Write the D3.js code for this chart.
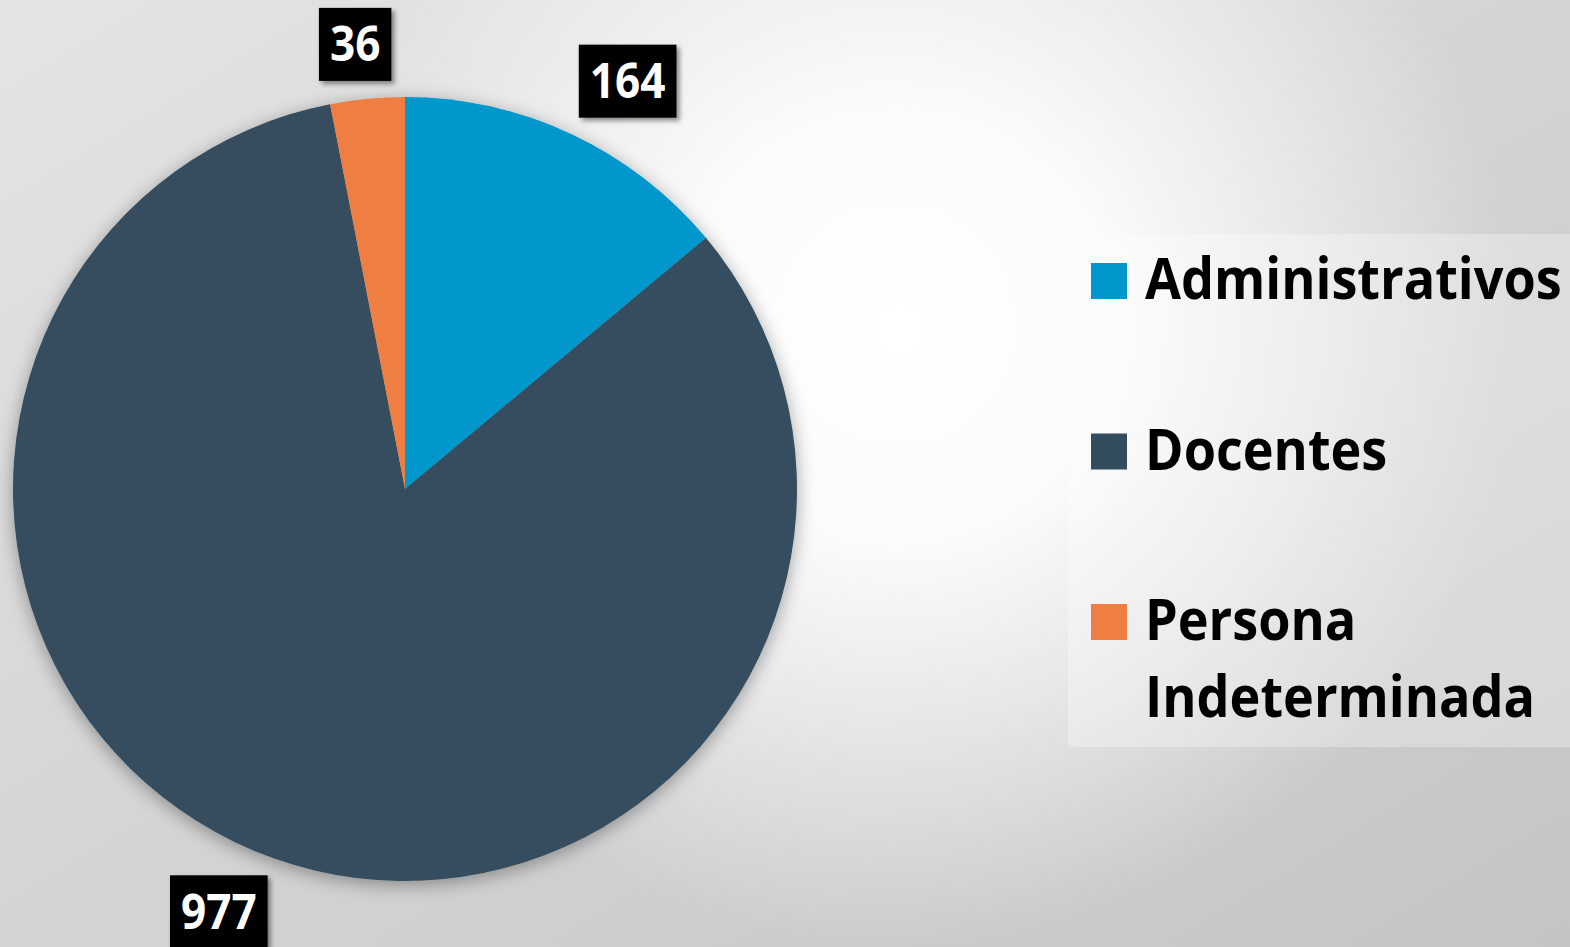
<!DOCTYPE html>
<html>
<head>
<meta charset="utf-8">
<script src="https://cdn.jsdelivr.net/npm/d3@7"></script>
<style>
  html, body { margin: 0; padding: 0; overflow: hidden; }
  svg { display: block; font-family: "Open Sans", "Noto Sans", sans-serif; }
</style>
</head>
<body>
<div id="chart"></div>
<script>
// data
var categories = ["Administrativos", "Docentes", "Persona Indeterminada"];
var values = [164, 977, 36];
var colors = ["#0097cd", "#344d5e", "#ef7e42"];

var width = 1570, height = 947;
var radius = 392, cx = 405, cy = 489;
var squeeze = 0.9; // stand-in font is wider than the original one

var svg = d3.select("#chart").append("svg")
  .attr("width", width).attr("height", height);

var defs = svg.append("defs");

var lin = defs.append("linearGradient").attr("id", "bgLin")
  .attr("x1", 0).attr("y1", 0).attr("x2", 1).attr("y2", 1);
lin.append("stop").attr("offset", 0).attr("stop-color", "#e4e4e4");
lin.append("stop").attr("offset", 1).attr("stop-color", "#c4c4c4");

var glow = defs.append("radialGradient").attr("id", "bgGlow")
  .attr("gradientUnits", "userSpaceOnUse")
  .attr("cx", 900).attr("cy", 330).attr("r", 620);
glow.append("stop").attr("offset", 0).attr("stop-color", "#fff").attr("stop-opacity", 1);
glow.append("stop").attr("offset", 0.35).attr("stop-color", "#fff").attr("stop-opacity", 0.9);
glow.append("stop").attr("offset", 1).attr("stop-color", "#fff").attr("stop-opacity", 0);

var pieShadow = defs.append("filter").attr("id", "pieShadow")
  .attr("x", "-20%").attr("y", "-20%").attr("width", "140%").attr("height", "140%");
pieShadow.append("feDropShadow").attr("dx", 0).attr("dy", 4)
  .attr("stdDeviation", 9).attr("flood-color", "#000").attr("flood-opacity", 0.35);

var boxShadow = defs.append("filter").attr("id", "boxShadow")
  .attr("x", "-20%").attr("y", "-20%").attr("width", "150%").attr("height", "150%");
boxShadow.append("feDropShadow").attr("dx", 3).attr("dy", 3)
  .attr("stdDeviation", 2.5).attr("flood-color", "#000").attr("flood-opacity", 0.45);

svg.append("rect").attr("width", width).attr("height", height).attr("fill", "url(#bgLin)");
svg.append("rect").attr("width", width).attr("height", height).attr("fill", "url(#bgGlow)");

// pie
var pie = d3.pie().sort(null).value(function (d) { return d; });
var arc = d3.arc().innerRadius(0).outerRadius(radius);
var arcs = pie(values);

var g = svg.append("g").attr("transform", "translate(" + cx + "," + cy + ")");
g.append("g").attr("filter", "url(#pieShadow)")
  .selectAll("path")
  .data(arcs)
  .enter()
    .append("path")
    .attr("d", arc)
    .attr("fill", function (d, i) { return colors[i]; });

// data labels, outside end
var clamp = function (v) { return Math.max(-1, Math.min(1, v)); };
var labelGap = 18, boxH = 73, padX = 11;

arcs.forEach(function (d) {
  var a = (d.startAngle + d.endAngle) / 2;
  var sx = Math.sin(a), sy = -Math.cos(a);
  var px = sx * (radius + labelGap), py = sy * (radius + labelGap);

  var lg = g.append("g");
  var rect = lg.append("rect").attr("fill", "#000").attr("filter", "url(#boxShadow)");
  var tg = lg.append("g");
  var t = tg.append("text")
    .attr("fill", "#fff")
    .attr("font-size", 49)
    .attr("font-weight", 700)
    .attr("text-anchor", "middle")
    .text(d.value);
  var tw = t.node().getComputedTextLength() * squeeze;

  var w = tw + padX * 2;
  var bx = px + w / 2 * clamp(sx / 0.33);
  var by = py + boxH / 2 * clamp(sy / 0.33);
  rect.attr("x", bx - w / 2).attr("y", by - boxH / 2).attr("width", w).attr("height", boxH);
  tg.attr("transform", "translate(" + bx + "," + (by + 17) + ") scale(" + squeeze + ",1)");
});

// legend
var legX = 1068, legY = 234, legW = 520, legH = 513;
var legend = svg.append("g");
legend.append("rect")
  .attr("x", legX).attr("y", legY).attr("width", legW).attr("height", legH)
  .attr("fill", "#fff").attr("fill-opacity", 0.3);

var itemY = d3.scalePoint().domain(categories).range([281, 622]);
var maxTextW = 420, lineH = 77, textX = 1145;

categories.forEach(function (name, i) {
  var y = itemY(name);
  legend.append("rect")
    .attr("x", 1091).attr("y", y - 18).attr("width", 36).attr("height", 36)
    .attr("fill", colors[i]);

  var tg = legend.append("g")
    .attr("transform", "translate(" + textX + "," + (y + 18) + ") scale(" + squeeze + ",1)");
  var t = tg.append("text")
    .attr("font-size", 58).attr("font-weight", 700).attr("fill", "#000");

  // wrap words onto lines that fit
  var words = name.split(" "), line = [], lines = [];
  var probe = t.append("tspan");
  words.forEach(function (w) {
    var test = line.concat([w]).join(" ");
    probe.text(test);
    if (line.length && probe.node().getComputedTextLength() * squeeze > maxTextW) {
      lines.push(line.join(" "));
      line = [w];
    } else {
      line.push(w);
    }
  });
  lines.push(line.join(" "));
  probe.remove();

  lines.forEach(function (s, k) {
    t.append("tspan").attr("x", 0).attr("dy", k === 0 ? 0 : lineH).text(s);
  });
});
</script>
</body>
</html>
